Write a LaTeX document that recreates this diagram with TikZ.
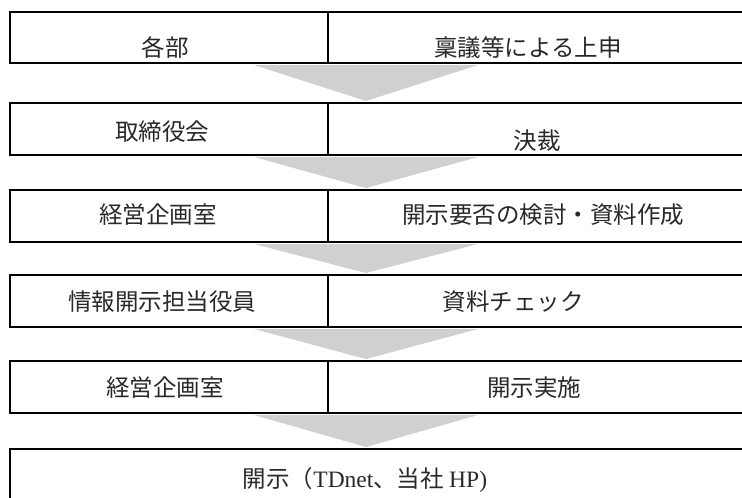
\documentclass[tikz,border=0pt]{standalone}
\usepackage{fontspec}
\setmainfont{Liberation Serif}
\newfontfamily\cjk{Noto Sans CJK JP}
\definecolor{arrowgray}{RGB}{208,208,208}
\definecolor{inkgray}{RGB}{40,40,40}
\begin{document}
\begin{tikzpicture}[x=1pt,y=-1pt,
  cell/.style={draw=black,line width=2pt,inner sep=0pt,anchor=north west},
  txt/.style={font=\cjk\fontsize{23.5}{23.5}\selectfont,inner sep=0pt,text=inkgray},
  flow/.style={fill=arrowgray,draw=none}]
\useasboundingbox (0,0) rectangle (742,498);
\clip (0,0) rectangle (742,498);
% rows of cells
\node[cell,minimum width=318pt,minimum height=51pt] (r1l) at (9,11) {};
\node[cell,minimum width=430pt,minimum height=51pt] (r1r) at (327,11) {};
\node[cell,minimum width=318pt,minimum height=52pt] (r2l) at (9,102) {};
\node[cell,minimum width=430pt,minimum height=52pt] (r2r) at (327,102) {};
\node[cell,minimum width=318pt,minimum height=52pt] (r3l) at (9,189) {};
\node[cell,minimum width=430pt,minimum height=52pt] (r3r) at (327,189) {};
\node[cell,minimum width=318pt,minimum height=52pt] (r4l) at (9,274) {};
\node[cell,minimum width=430pt,minimum height=52pt] (r4r) at (327,274) {};
\node[cell,minimum width=318pt,minimum height=52pt] (r5l) at (9,360) {};
\node[cell,minimum width=430pt,minimum height=52pt] (r5r) at (327,360) {};
\node[cell,minimum width=748pt,minimum height=80pt] (r6) at (9,448) {};
% block arrows between rows
\fill[flow] ([xshift=-75pt,yshift=-1pt]r1l.south east) -- ([xshift=149pt,yshift=-1pt]r1l.south east) -- ([xshift=37pt,yshift=1pt]r2l.north east) -- cycle;
\fill[flow] ([xshift=-75pt,yshift=-1pt]r2l.south east) -- ([xshift=149pt,yshift=-1pt]r2l.south east) -- ([xshift=37pt,yshift=1pt]r3l.north east) -- cycle;
\fill[flow] ([xshift=-75pt,yshift=-1pt]r3l.south east) -- ([xshift=149pt,yshift=-1pt]r3l.south east) -- ([xshift=37pt,yshift=1pt]r4l.north east) -- cycle;
\fill[flow] ([xshift=-75pt,yshift=-1pt]r4l.south east) -- ([xshift=149pt,yshift=-1pt]r4l.south east) -- ([xshift=37pt,yshift=1pt]r5l.north east) -- cycle;
\fill[flow] ([xshift=-75pt,yshift=-1pt]r5l.south east) -- ([xshift=149pt,yshift=-1pt]r5l.south east) -- ([xshift=37pt,yshift=1pt]r6.north west -| r5l.north east) -- cycle;
% texts
\node[txt] (t1l) at (165,48) {各部};
\node[txt] (t1r) at (528,48) {稟議等による上申};
\node[txt] (t2l) at (162,132) {取締役会};
\node[txt] (t2r) at (537,141) {決裁};
\node[txt] (t3l) at (158,215) {経営企画室};
\node[txt] (t3r) at (543,215) {開示要否の検討・資料作成};
\node[txt] (t4l) at (162,302) {情報開示担当役員};
\node[txt] (t4r) at (513,302) {資料チェック};
\node[txt] (t5l) at (165,388) {経営企画室};
\node[txt] (t5r) at (534,388) {開示実施};
\node[txt] (t6) at (365,480) {開示（{\rmfamily TDnet}、当社 {\rmfamily HP)}};
\end{tikzpicture}
\end{document}
